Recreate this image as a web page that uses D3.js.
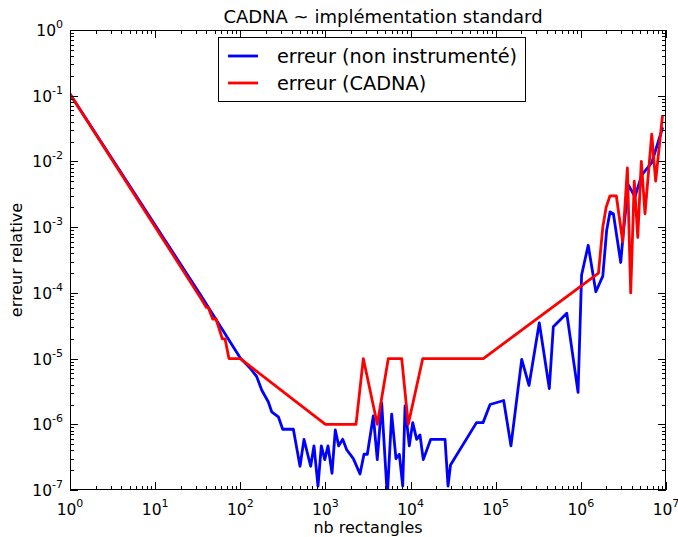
<!DOCTYPE html>
<html><head><meta charset="utf-8">
<script src="https://cdn.jsdelivr.net/npm/d3@7"></script>
<style>body{margin:0;background:#fff}svg{display:block}text{font-family:"DejaVu Sans",sans-serif}</style>
</head><body><svg id="c" width="678" height="537"></svg>
<script>
const title = "CADNA ~ implémentation standard";
const xLabel = "nb rectangles";
const yLabel = "erreur relative";
const seriesNames = ["erreur (non instrumenté)", "erreur (CADNA)"];
const xTickExps = [0,1,2,3,4,5,6,7];
const yTickExps = [0,-1,-2,-3,-4,-5,-6,-7];

const blueN = [1,33.6,100,130,156,179,213,234,280,315,420,503,560,671,734,818,895,982,1072,1195,1306,1432,1596,1778,2128,2547,2838,3104,3650,4065,4580,5330,5998,6740,7380,8090,8610,9665,10600,11800,12900,14100,17250,25400,27540,29450,59500,71000,85800,124000,151000,202000,246000,325000,426000,475000,683000,927000,1.02e6,1.22e6,1.50e6,1.81e6,2.01e6,2.20e6,2.41e6,2.94e6,3.15e6,3.61e6,4.32e6,5.18e6,6.8e6,7.78e6,9.15e6];
const blueErr = [0.106,9.6e-5,1.02e-5,7.2e-6,5.3e-6,3.3e-6,2.2e-6,1.55e-6,1.3e-6,8.4e-7,8.4e-7,2.3e-7,5.9e-7,2.3e-7,4.7e-7,1.15e-7,4.7e-7,2.9e-7,4.7e-7,1.8e-7,8.2e-7,4.7e-7,5.9e-7,4.1e-7,3.0e-7,1.75e-7,3.5e-7,3.5e-7,1.34e-6,2.9e-7,2.1e-6,8e-8,1.43e-6,3.0e-7,3.5e-7,1.15e-7,1.9e-6,4.7e-7,1.06e-6,5.9e-7,6.9e-7,2.9e-7,5.9e-7,5.9e-7,1.15e-7,2.4e-7,1.06e-6,1.06e-6,2.0e-6,2.3e-6,4.7e-7,9.7e-6,3.9e-6,3.5e-5,3.5e-6,3.05e-5,4.9e-5,3.06e-6,1.87e-4,5.3e-4,1.04e-4,1.8e-4,9.0e-4,1.7e-3,1.6e-3,2.9e-4,8.1e-4,4.4e-3,2.9e-3,6.2e-3,9.6e-3,1.67e-2,3.3e-2];

const redN = [1,35,40,42,47.4,51.9,61.5,66.2,73.6,100,1000,2287,2787,4065,5480,7870,9400,13900,71500,1.61e6,1.81e6,1.98e6,2.20e6,2.61e6,3.10e6,3.52e6,3.85e6,4.24e6,4.66e6,5.13e6,5.67e6,6.8e6,7.56e6,9.1e6];
const redErr = [0.106,8e-5,6e-5,6e-5,4e-5,4e-5,2e-5,2e-5,1e-5,1e-5,1e-6,1e-6,1e-5,1e-6,1e-5,1e-5,1e-6,1e-5,1e-5,2e-4,1e-3,2e-3,3e-3,3e-3,6e-4,8e-3,1e-4,5e-3,7e-4,1e-2,1.6e-3,2.6e-2,5e-3,5e-2];

const svg = d3.select("#c");
const L = 70, R = 666, T = 30, B = 490;
const x = d3.scaleLog().domain([1,1e7]).range([L,R]);
const y = d3.scaleLog().domain([1e-7,1]).range([B,T]);

svg.append("defs").append("clipPath").attr("id","clip")
  .append("rect").attr("x",L).attr("y",T).attr("width",R-L).attr("height",B-T);

const line = d3.line().x(d=>x(d[0])).y(d=>y(d[1]));
const bluePts = blueN.map((n,i)=>[n,blueErr[i]]);
const redPts = redN.map((n,i)=>[n,redErr[i]]);
const g = svg.append("g").attr("clip-path","url(#clip)");
g.append("path").datum(bluePts).attr("d",line).attr("fill","none").attr("stroke","#0000ff").attr("stroke-width",2.8).attr("stroke-linejoin","round");
g.append("path").datum(redPts).attr("d",line).attr("fill","none").attr("stroke","#ff0000").attr("stroke-width",2.8).attr("stroke-linejoin","round");

const minorX = [], minorY = [];
for (let e=0;e<7;e++) for (let k=2;k<=9;k++) minorX.push(k*Math.pow(10,e));
for (let e=-7;e<0;e++) for (let k=2;k<=9;k++) minorY.push(k*Math.pow(10,e));
const majX = xTickExps.map(e=>Math.pow(10,e));
const majY = yTickExps.map(e=>Math.pow(10,e));

const tk = svg.append("g").attr("stroke","#000").attr("stroke-width",1);
function vt(v, len){ const px=Math.round(x(v))+0.5;
  tk.append("line").attr("x1",px).attr("x2",px).attr("y1",B).attr("y2",B-len);
  tk.append("line").attr("x1",px).attr("x2",px).attr("y1",T).attr("y2",T+len);}
function ht(v, len){ const py=Math.round(y(v))+0.5;
  tk.append("line").attr("y1",py).attr("y2",py).attr("x1",L).attr("x2",L+len);
  tk.append("line").attr("y1",py).attr("y2",py).attr("x1",R).attr("x2",R-len);}
majX.forEach(v=>vt(v,8)); minorX.forEach(v=>vt(v,4));
majY.forEach(v=>ht(v,8)); minorY.forEach(v=>ht(v,4));

svg.append("rect").attr("x",L+0.5).attr("y",T+0.5).attr("width",R-L-1).attr("height",B-T-1)
  .attr("fill","none").attr("stroke","#000").attr("stroke-width",1);

xTickExps.forEach(e=>{
  const t = svg.append("text").attr("x",x(Math.pow(10,e))).attr("y",515).attr("text-anchor","middle").attr("font-size",15.5);
  t.append("tspan").text("10");
  t.append("tspan").attr("dy",-8).attr("font-size",11).text(e);
});
yTickExps.forEach(e=>{
  const t = svg.append("text").attr("x",L-7).attr("y",y(Math.pow(10,e))+6).attr("text-anchor","end").attr("font-size",15.5);
  t.append("tspan").text("10");
  t.append("tspan").attr("dy",-8).attr("font-size",11).text(e);
});

svg.append("text").attr("x",(L+R)/2+15).attr("y",23).attr("text-anchor","middle").attr("font-size",18).text(title);
svg.append("text").attr("x",(L+R)/2).attr("y",533).attr("text-anchor","middle").attr("font-size",16).text(xLabel);
svg.append("text").attr("transform",`translate(22,${(T+B)/2}) rotate(-90)`).attr("text-anchor","middle").attr("font-size",16).text(yLabel);

const lg = svg.append("g");
lg.append("rect").attr("x",218.5).attr("y",37.5).attr("width",307).attr("height",64).attr("fill","#fff").attr("stroke","#000");
const colors = ["#0000ff","#ff0000"];
seriesNames.forEach((s,i)=>{
  const yy = 56 + i*27;
  lg.append("line").attr("x1",228).attr("x2",258).attr("y1",yy).attr("y2",yy).attr("stroke",colors[i]).attr("stroke-width",2.8);
  lg.append("text").attr("x",277).attr("y",yy+7).attr("font-size",19.3).text(s);
});
</script></body></html>
